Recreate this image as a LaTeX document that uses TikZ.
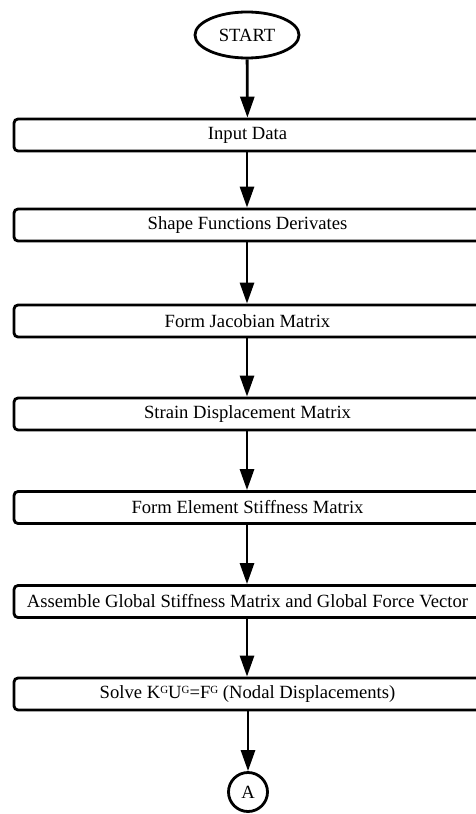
\documentclass[tikz,border=0pt]{standalone}
\usepackage{fontspec}
\setmainfont{Liberation Serif}
\usetikzlibrary{arrows.meta,shapes.geometric,positioning}
\newcommand{\supG}{\raisebox{0.55ex}{\fontsize{11}{11}\selectfont G}}

\begin{document}
\begin{tikzpicture}[x=1bp,y=-1bp,
    procbox/.style={draw,line width=2.8bp,rounded corners=4bp,minimum width=467bp,
      minimum height=32bp,inner sep=0pt,font=\fontsize{18.7}{22}\selectfont},
    flow/.style={line width=2.8bp,-{Triangle[length=21bp,width=14bp]}}]
    \useasboundingbox (0,0) rectangle (476,814);

      % Terminals
      \node[draw,ellipse,line width=2.8bp,minimum width=104bp,minimum height=46bp,
        inner sep=0pt,font=\fontsize{18.7}{22}\selectfont] (start) at (247,35) {START};
      \node[draw,circle,line width=2.8bp,minimum size=39bp,inner sep=0pt,
        font=\fontsize{18.7}{22}\selectfont] (conA) at (248,792) {A};

      % Steps
      \node[procbox] (input) at (247.5,135) {Input Data};
      \node[procbox] (shape) at (247.5,225) {Shape Functions Derivates};
      \node[procbox] (jacob) at (247.5,321) {Form Jacobian Matrix};
      \node[procbox] (strain) at (247.5,414) {Strain Displacement Matrix};
      \node[procbox] (elem) at (247.5,507.5) {Form Element Stiffness Matrix};
      \node[procbox] (assem) at (247.5,601.5) {Assemble Global Stiffness Matrix and Global Force Vector};
      \node[procbox] (solve) at (247.5,694) {Solve K\supG U\supG=F\supG\ (Nodal Displacements)};

      % Flow
      \draw[flow] (start) -- (input);
      \draw[flow] (input.south -| start) -- (shape.north -| start);
      \draw[flow] (shape.south -| start) -- (jacob.north -| start);
      \draw[flow] (jacob.south -| start) -- (strain.north -| start);
      \draw[flow] (strain.south -| start) -- (elem.north -| start);
      \draw[flow] (elem.south -| start) -- (assem.north -| start);
      \draw[flow] (assem.south -| start) -- (solve.north -| start);
      \draw[flow] (solve.south -| conA) -- (conA);
\end{tikzpicture}
\end{document}
